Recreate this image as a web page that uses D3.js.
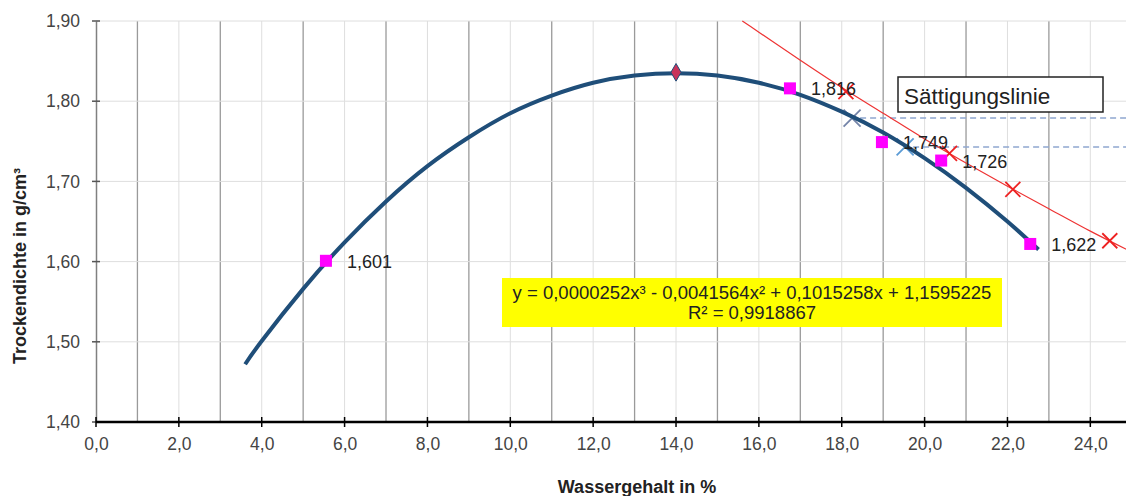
<!DOCTYPE html>
<html>
<head>
<meta charset="utf-8">
<script src="https://cdn.jsdelivr.net/npm/d3@7"></script>
<style>
  body { margin: 0; background: #fff; }
  text { font-family: "Liberation Sans", Arial, sans-serif; }
</style>
</head>
<body>
<script>
// Proctor curve data
var pointX = [5.55, 16.75, 18.97, 20.4, 22.55];
var pointY = [1.601, 1.816, 1.749, 1.726, 1.622];
var pointLabels = ["1,601", "1,816", "1,749", "1,726", "1,622"];

var peakX = 14.0;
var peakY = 1.836;

// trendline
var trendX = [3.6, 4, 5, 6, 7, 8, 9, 10, 11, 12, 13, 14, 15, 16, 17, 18, 19, 20, 21, 22, 22.75];
var trendY = [1.472, 1.501, 1.566, 1.624, 1.675, 1.719, 1.755, 1.785, 1.807, 1.823, 1.832, 1.835, 1.832, 1.823, 1.808, 1.787, 1.761, 1.729, 1.692, 1.650, 1.615];

// saturation line
var satX = [15.6, 16, 17, 18, 19, 20, 21, 22, 23, 24, 25];
var satY = [1.900, 1.886, 1.851, 1.817, 1.785, 1.753, 1.723, 1.694, 1.666, 1.638, 1.612];
var satMarkX = [18.1, 20.6, 22.13, 24.47];
var satMarkY = [1.812, 1.735, 1.690, 1.626];

// blue crosses with dashed reference lines
var refX = [18.25, 19.53];
var refY = [1.779, 1.743];
var refColors = ["#7484a8", "#5b9bd5"];

var xTicks = [0, 2, 4, 6, 8, 10, 12, 14, 16, 18, 20, 22, 24];
var yTicks = [1.40, 1.50, 1.60, 1.70, 1.80, 1.90];

var equation = "y = 0,0000252x³ - 0,0041564x² + 0,1015258x + 1,1595225";
var rSquared = "R² = 0,9918867";

var width = 1126, height = 496;
var svg = d3.select("body").append("svg")
    .attr("width", width)
    .attr("height", height);

var x = d3.scaleLinear().domain([0, 25]).range([96, 96 + 25 * 41.43]);
var y = d3.scaleLinear().domain([1.40, 1.90]).range([422, 21]);

var fmt1 = function(v) { return d3.format(".1f")(v).replace(".", ","); };
var fmt2 = function(v) { return d3.format(".2f")(v).replace(".", ","); };

// vertical grid, every unit, odd ones darker
svg.append("g").selectAll("line")
    .data(d3.range(1, 26))
    .enter().append("line")
    .attr("x1", function(d) { return x(d); })
    .attr("x2", function(d) { return x(d); })
    .attr("y1", y(1.90))
    .attr("y2", y(1.40))
    .attr("stroke", function(d) { return d % 2 ? "#9a9a9a" : "#dedede"; })
    .attr("stroke-width", function(d) { return d % 2 ? 1.3 : 1; });

// horizontal grid
svg.append("g").selectAll("line")
    .data(yTicks.slice(1))
    .enter().append("line")
    .attr("x1", x(0))
    .attr("x2", width)
    .attr("y1", function(d) { return y(d); })
    .attr("y2", function(d) { return y(d); })
    .attr("stroke", "#dedede")
    .attr("stroke-width", 1);

// y axis
var yAxis = svg.append("g")
    .attr("transform", "translate(" + x(0) + ",0)")
    .call(d3.axisLeft(y).tickValues(yTicks).tickFormat(fmt2).tickSize(0).tickPadding(16));
yAxis.select(".domain").attr("stroke", "#808080").attr("stroke-width", 1.5);
yAxis.selectAll(".tick text").attr("font-size", 17.5).attr("fill", "#444");
svg.append("g").selectAll("line")
    .data(yTicks)
    .enter().append("line")
    .attr("x1", x(0) - 4)
    .attr("x2", x(0) + 4)
    .attr("y1", function(d) { return y(d); })
    .attr("y2", function(d) { return y(d); })
    .attr("stroke", "#555")
    .attr("stroke-width", 1.5);

// x axis
var xAxis = svg.append("g")
    .attr("transform", "translate(0," + y(1.40) + ")")
    .call(d3.axisBottom(x).tickValues(xTicks).tickFormat(fmt1).tickSize(0).tickPadding(16));
xAxis.select(".domain").remove();
xAxis.selectAll(".tick text").attr("font-size", 17.5).attr("fill", "#444");
svg.append("line")
    .attr("x1", x(0))
    .attr("x2", width)
    .attr("y1", y(1.40))
    .attr("y2", y(1.40))
    .attr("stroke", "#000")
    .attr("stroke-width", 2.5);
svg.append("g").selectAll("line")
    .data(xTicks)
    .enter().append("line")
    .attr("x1", function(d) { return x(d); })
    .attr("x2", function(d) { return x(d); })
    .attr("y1", y(1.40) - 5)
    .attr("y2", y(1.40) + 5)
    .attr("stroke", "#000")
    .attr("stroke-width", 1.5);

// axis titles
svg.append("text")
    .attr("transform", "translate(26,266) rotate(-90)")
    .attr("text-anchor", "middle")
    .attr("font-size", 18)
    .attr("font-weight", "bold")
    .attr("fill", "#222")
    .text("Trockendichte in g/cm³");
svg.append("text")
    .attr("x", 637)
    .attr("y", 493)
    .attr("text-anchor", "middle")
    .attr("font-size", 18)
    .attr("font-weight", "bold")
    .attr("fill", "#222")
    .text("Wassergehalt in %");

// dashed reference lines
svg.append("g").selectAll("line")
    .data(refX)
    .enter().append("line")
    .attr("x1", function(d) { return x(d) + 8; })
    .attr("x2", width)
    .attr("y1", function(d, i) { return y(refY[i]); })
    .attr("y2", function(d, i) { return y(refY[i]); })
    .attr("stroke", "#8ea6cf")
    .attr("stroke-width", 1.5)
    .attr("stroke-dasharray", "6,4");

// saturation line
var satLine = d3.line()
    .x(function(d) { return x(d); })
    .y(function(d, i) { return y(satY[i]); })
    .curve(d3.curveMonotoneX);
svg.append("path")
    .attr("d", satLine(satX))
    .attr("fill", "none")
    .attr("stroke", "#ee3333")
    .attr("stroke-width", 1.2);

function cross(g, cx, cy, r, color, w) {
    g.append("path")
        .attr("d", "M" + (cx - r) + "," + (cy - r) + "L" + (cx + r) + "," + (cy + r) +
                   "M" + (cx - r) + "," + (cy + r) + "L" + (cx + r) + "," + (cy - r))
        .attr("stroke", color)
        .attr("stroke-width", w)
        .attr("fill", "none");
}
var marks = svg.append("g");
satMarkX.forEach(function(d, i) { cross(marks, x(d), y(satMarkY[i]), 7.5, "#ee2222", 1.8); });
refX.forEach(function(d, i) { cross(marks, x(d), y(refY[i]), 8.5, refColors[i], 1.8); });

// trendline
var trendLine = d3.line()
    .x(function(d) { return x(d); })
    .y(function(d, i) { return y(trendY[i]); })
    .curve(d3.curveNatural);
svg.append("path")
    .attr("d", trendLine(trendX))
    .attr("fill", "none")
    .attr("stroke", "#1f4e79")
    .attr("stroke-width", 4);

// measured points
svg.append("g").selectAll("rect")
    .data(pointX)
    .enter().append("rect")
    .attr("x", function(d) { return x(d) - 6; })
    .attr("y", function(d, i) { return y(pointY[i]) - 6; })
    .attr("width", 12)
    .attr("height", 12)
    .attr("fill", "#ff00ff");

svg.append("g").selectAll("text")
    .data(pointX)
    .enter().append("text")
    .attr("x", function(d) { return x(d) + 21; })
    .attr("y", function(d, i) { return y(pointY[i]) + 7; })
    .attr("font-size", 18)
    .attr("fill", "#222")
    .text(function(d, i) { return pointLabels[i]; });

// peak marker
svg.append("path")
    .attr("d", d3.symbol().type(d3.symbolDiamond).size(90))
    .attr("transform", "translate(" + x(peakX) + "," + y(peakY) + ")")
    .attr("fill", "#c8325a")
    .attr("stroke", "#1f4e79")
    .attr("stroke-width", 1);

// legend box
svg.append("rect")
    .attr("x", 898)
    .attr("y", 77)
    .attr("width", 205)
    .attr("height", 35)
    .attr("fill", "#fff")
    .attr("stroke", "#222")
    .attr("stroke-width", 1.5);
svg.append("text")
    .attr("x", 904)
    .attr("y", 104)
    .attr("font-size", 22.5)
    .attr("fill", "#222")
    .text("Sättigungslinie");

// equation box
svg.append("rect")
    .attr("x", 502)
    .attr("y", 278)
    .attr("width", 500)
    .attr("height", 49)
    .attr("fill", "#ffff00");
svg.append("text")
    .attr("x", 752)
    .attr("y", 299)
    .attr("text-anchor", "middle")
    .attr("font-size", 18.5)
    .attr("fill", "#222")
    .text(equation);
svg.append("text")
    .attr("x", 752)
    .attr("y", 319)
    .attr("text-anchor", "middle")
    .attr("font-size", 18.5)
    .attr("fill", "#222")
    .text(rSquared);
</script>
</body>
</html>
